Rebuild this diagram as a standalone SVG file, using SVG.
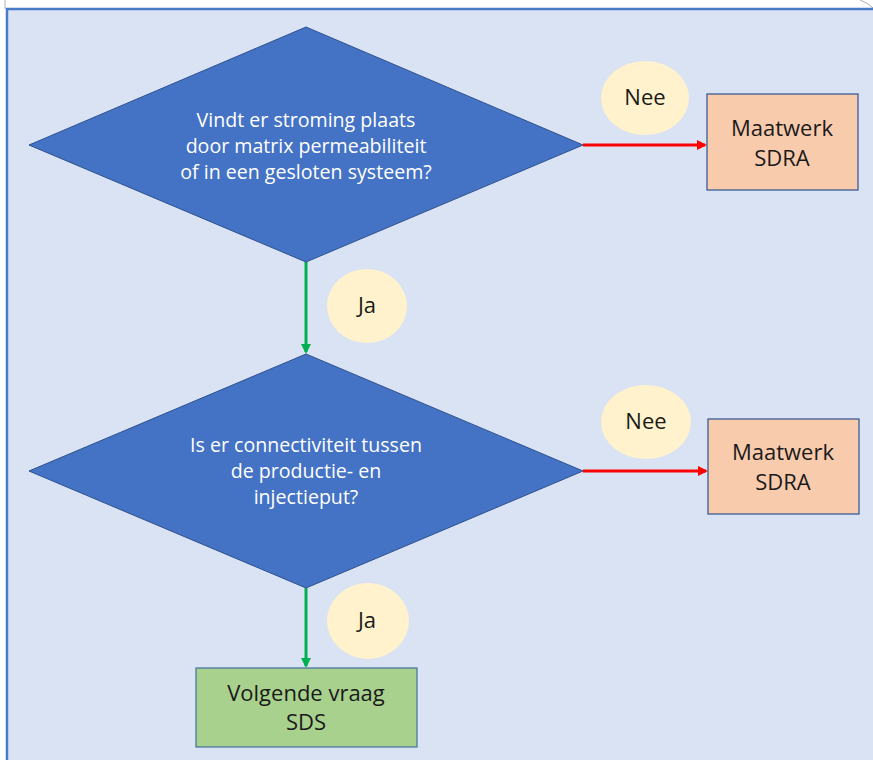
<svg xmlns="http://www.w3.org/2000/svg" width="873" height="760" viewBox="0 0 873 760">
  <style>
    .panel { fill: #dae3f3; stroke: #4a7bc8; stroke-width: 2.5; }
    .decision { fill: #4472c4; stroke: #2f528f; stroke-width: 1; }
    .q { font-family: "Open Sans", "Noto Sans", sans-serif; font-size: 19.6px; fill: #ffffff; text-anchor: middle; }
    .lbl { font-family: "Open Sans", "Noto Sans", sans-serif; font-size: 22px; fill: #1a1a1a; text-anchor: middle; }
    .bubble { fill: #fff2cc; }
    .custom { fill: #f8cbad; stroke: #2f528f; stroke-width: 1.2; }
    .next { fill: #a9d18e; stroke: #41719c; stroke-width: 1.2; }
    .no { stroke: #ff0000; stroke-width: 3; fill: none; }
    .yes { stroke: #00b050; stroke-width: 3; fill: none; }
  </style>
  <defs>
    <marker id="arrRed" markerWidth="10" markerHeight="10" refX="8" refY="5" orient="auto" markerUnits="userSpaceOnUse" viewBox="0 0 10 10">
      <path d="M0,0 L10,5 L0,10 z" fill="#ff0000"/>
    </marker>
    <marker id="arrGreen" markerWidth="10" markerHeight="10" refX="8" refY="5" orient="auto" markerUnits="userSpaceOnUse" viewBox="0 0 10 10">
      <path d="M0,0 L10,5 L0,10 z" fill="#00b050"/>
    </marker>
  </defs>

  <rect width="873" height="760" fill="#ffffff"/>
  <!-- thin frame lines at the top edge -->
  <line x1="5" y1="0" x2="5" y2="9" stroke="#b0b0b0" stroke-width="1"/>
  <path d="M860,0 Q868,3 873,8" fill="none" stroke="#b0b0b0" stroke-width="1"/>
  <!-- background panel -->
  <rect class="panel" x="7" y="9" width="880" height="760"/>

  <g id="connectors">
    <line class="no" x1="583" y1="145" x2="705" y2="145" marker-end="url(#arrRed)"/>
    <line class="no" x1="583" y1="471" x2="706" y2="471" marker-end="url(#arrRed)"/>
    <line class="yes" x1="306" y1="262" x2="306" y2="352" marker-end="url(#arrGreen)"/>
    <line class="yes" x1="306" y1="588" x2="306" y2="666" marker-end="url(#arrGreen)"/>
  </g>

  <g id="q1">
    <polygon class="decision" points="306,27 583,145 306,262 29,145"/>
    <text class="q" x="306" y="127">Vindt er stroming plaats</text>
    <text class="q" x="306" y="153">door matrix permeabiliteit</text>
    <text class="q" x="306" y="179">of in een gesloten systeem?</text>
  </g>

  <g id="q2">
    <polygon class="decision" points="306,354 583,471 306,588 29,471"/>
    <text class="q" x="306" y="452">Is er connectiviteit tussen</text>
    <text class="q" x="306" y="478">de productie- en</text>
    <text class="q" x="306" y="504">injectieput?</text>
  </g>

  <g id="nee1">
    <ellipse class="bubble" cx="645" cy="98" rx="44" ry="37"/>
    <text class="lbl" x="645" y="105">Nee</text>
  </g>
  <g id="nee2">
    <ellipse class="bubble" cx="646" cy="422" rx="45" ry="37"/>
    <text class="lbl" x="646" y="429">Nee</text>
  </g>
  <g id="ja1">
    <ellipse class="bubble" cx="367" cy="306" rx="40" ry="37"/>
    <text class="lbl" x="367" y="313">Ja</text>
  </g>
  <g id="ja2">
    <ellipse class="bubble" cx="368" cy="621" rx="41" ry="38"/>
    <text class="lbl" x="367" y="628">Ja</text>
  </g>

  <g id="maatwerk1">
    <rect class="custom" x="707" y="94" width="151" height="96"/>
    <text class="lbl" x="782" y="136">Maatwerk</text>
    <text class="lbl" x="782" y="166">SDRA</text>
  </g>
  <g id="maatwerk2">
    <rect class="custom" x="708" y="419" width="151" height="95"/>
    <text class="lbl" x="783" y="460">Maatwerk</text>
    <text class="lbl" x="783" y="490">SDRA</text>
  </g>
  <g id="volgende">
    <rect class="next" x="196" y="668" width="221" height="79"/>
    <text class="lbl" x="306" y="701">Volgende vraag</text>
    <text class="lbl" x="306" y="730">SDS</text>
  </g>
</svg>
